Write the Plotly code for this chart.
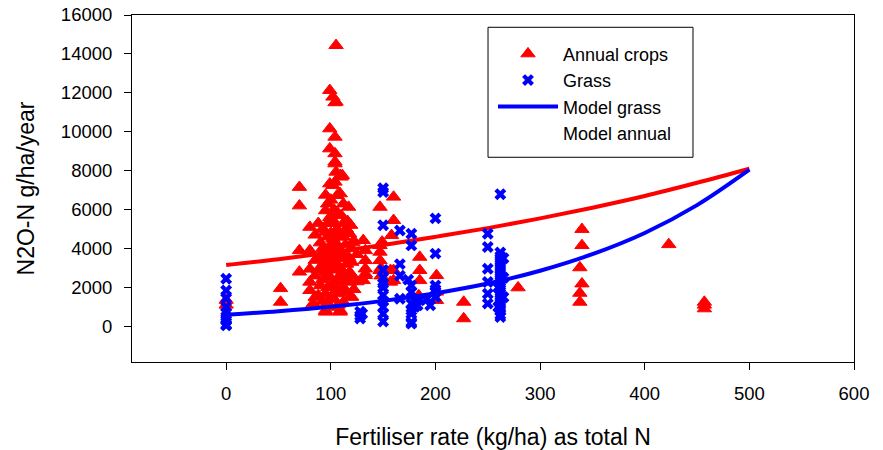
import plotly.graph_objects as go

# Annual crops: fertiliser rate (kg N/ha) and N2O-N emission (g/ha/year)
annual_x = [0, 0, 52, 52, 70, 70, 70, 70, 80, 80, 80, 80, 80, 83, 90, 90, 90, 88,
            95, 95, 95, 95, 95, 95, 95, 95, 95,
            99, 99, 99, 99, 99, 99, 99, 99, 99,
            101, 102, 102, 102, 102,
            104, 104, 104, 104, 104, 104, 105, 105, 105, 106, 106, 106, 106, 106, 106,
            109, 109, 109, 109, 109, 109, 109, 109,
            110, 110, 111, 112, 112, 112,
            117, 117, 115, 115, 115, 118, 118, 118, 119, 120, 120,
            85, 85, 85, 85, 88, 88,
            92, 92, 92, 92, 92,
            97, 97, 97, 97, 97, 97, 97,
            100, 100, 100, 100, 100, 100,
            103, 103, 103, 103, 103,
            107, 107, 107, 107, 107,
            112, 112, 112, 112, 114, 114,
            120, 120, 122, 122, 125, 125,
            116, 119, 121, 113,
            131, 133, 133, 133, 133, 131, 133,
            147, 147, 147, 147, 147, 149, 148, 148,
            157, 157, 160, 160, 158, 160, 160,
            185, 185, 185, 184,
            201, 201, 201,
            227, 227,
            279,
            340, 340, 338, 340, 338, 338,
            423,
            457, 457, 457]
annual_y = [1350, 1100, 1950, 1250, 7150, 6200, 3900, 2800, 5100, 3900, 2950, 2280, 1850, 1170, 3480, 2100, 4300, 1600,
            6750, 5950, 4850, 2800, 1680, 820, 740, 3800, 3300,
            12130, 10160, 9130, 7330, 990, 5600, 4000, 3000, 2500,
            5530, 11790, 7250, 4500, 3600,
            11500, 9730, 8880, 8450, 8360, 7420, 14440, 11530, 7930, 6730, 2280, 5000, 4200, 3200, 1900,
            6820, 7760, 1680, 820, 740, 3000, 3900, 2600,
            7680, 5700, 7760, 1250, 2000, 4600,
            6130, 3560, 5000, 3200, 2400, 4760, 2790, 2280, 1510, 1510, 4000,
            4700, 3400, 2600, 1500, 5300, 2900,
            5000, 4000, 3100, 2400, 1300,
            6300, 5300, 4600, 3600, 2700, 2000, 1200,
            6500, 4800, 4200, 3300, 2100, 1500,
            6000, 5300, 3900, 2900, 1400,
            5800, 4600, 3500, 2500, 1100,
            6300, 5300, 3600, 2800, 4200, 1800,
            3300, 2600, 4400, 1900, 3700, 2300,
            5400, 5200, 4300, 4900,
            4420, 3900, 3390, 2960, 2620, 2360, 2700,
            6130, 4160, 3820, 3390, 2880, 4340, 3000, 2600,
            2880, 2280, 6650, 5450, 4680, 2880, 2360,
            3560, 2880, 2360, 1590,
            2620, 1770, 1340,
            1250, 400,
            1990,
            4990, 4160, 3020, 2190, 1710, 1250,
            4210,
            1250, 1100, 910]

# Grass: fertiliser rate (kg N/ha) and N2O-N emission (g/ha/year)
grass_x = [0, 0, 0, 0, 0, 0, 0, 0, 0,
           128, 128, 128, 130,
           150, 150, 150, 150, 150, 150, 150, 150, 150, 150, 150, 150,
           166, 166, 166, 166, 174, 177, 177, 177, 177, 177, 177, 177, 177, 177,
           180, 180, 183, 185, 192, 195, 200, 200, 200, 200, 200, 200,
           250, 250, 250, 250, 250, 250,
           262, 262, 262, 262, 262, 262, 262, 262, 262, 262, 262, 262, 262, 262, 262, 262, 262, 262, 262,
           265, 265, 265, 260, 260]
grass_y = [2450, 1850, 1450, 1000, 700, 500, 300, 100, 50,
           750, 550, 400, 650,
           7100, 6900, 5200, 2900, 2500, 2000, 1600, 1000, 650, 250, 2200, 1300,
           4930, 3200, 2600, 1420, 2400, 4760, 4160, 2100, 1770, 1170, 820, 650, 220, 140,
           1000, 1300, 1080, 1340, 1420, 1080, 5550, 3740, 2100, 1770, 1510, 1900,
           4760, 4080, 2960, 2280, 1680, 1170,
           6790, 3800, 3600, 3400, 3200, 3000, 2800, 2600, 2400, 2200, 2000, 1800, 1600, 1400, 1200, 1000, 800, 600, 480,
           3500, 2500, 1500, 2000, 1000]

# Fitted model curves
model_x = [0, 50, 100, 150, 200, 250, 300, 350, 400, 450, 500]
model_annual_y = [3150, 3450, 3800, 4180, 4600, 5050, 5550, 6100, 6700, 7380, 8100]
model_grass_y = [600, 780, 1010, 1310, 1700, 2200, 2860, 3710, 4800, 6230, 8050]

x_ticks = [0, 100, 200, 300, 400, 500, 600]
y_ticks = [0, 2000, 4000, 6000, 8000, 10000, 12000, 14000, 16000]

RED = "#FF0000"
BLUE = "#0000FF"
FONT = "Liberation Sans, Arial, sans-serif"

fig = go.Figure()

# drawing order: annual model line, annual points, grass model line, grass points
fig.add_trace(go.Scatter(
    x=model_x, y=model_annual_y, mode="lines", name="Model annual", showlegend=False,
    legendgroup="annual_model", line=dict(color=RED, width=4, shape="spline"),
))
fig.add_trace(go.Scatter(
    x=annual_x, y=annual_y, mode="markers", name="Annual crops", legendrank=1,
    marker=dict(symbol="triangle-up", size=12.5, color=RED, line=dict(color=RED, width=1)),
))
fig.add_trace(go.Scatter(
    x=model_x, y=model_grass_y, mode="lines", name="Model grass", legendrank=3,
    line=dict(color=BLUE, width=4, shape="spline"),
))
fig.add_trace(go.Scatter(
    x=grass_x, y=grass_y, mode="markers", name="Grass", legendrank=2,
    marker=dict(symbol="x", size=10.5, color=BLUE, line=dict(width=0)),
))
# legend entry for the annual model (no symbol shown)
fig.add_trace(go.Scatter(
    x=[None], y=[None], mode="lines", name="Model annual", legendrank=4,
    legendgroup="annual_model", line=dict(color="rgba(0,0,0,0)", width=4),
))

fig.update_layout(
    width=883, height=450,
    margin=dict(l=132, r=29, t=15, b=88),
    paper_bgcolor="white", plot_bgcolor="white",
    font=dict(family=FONT, color="black", size=18.5),
    legend=dict(
        x=0.50, y=0.941, xanchor="left", yanchor="top",
        borderwidth=0, bgcolor="rgba(0,0,0,0)",
        font=dict(size=18, family=FONT, color="black"),
        itemwidth=60, tracegroupgap=0,
    ),
    shapes=[dict(
        type="rect", xref="paper", yref="paper",
        x0=0.4931, x1=0.777, y0=0.590, y1=0.9646,
        line=dict(color="black", width=1), fillcolor="white", layer="below",
    )],
    xaxis=dict(
        range=[-90, 600], tickvals=x_ticks, ticks="outside", ticklen=7,
        tickcolor="black", showline=True, linecolor="black", linewidth=1,
        mirror=True, showgrid=False, zeroline=False, automargin=False,
        tickfont=dict(size=18.5), ticklabelstandoff=8,
        title=dict(text="Fertiliser rate (kg/ha) as total N", font=dict(size=23), standoff=37),
    ),
    yaxis=dict(
        range=[-1830, 16000], tickvals=y_ticks, tickformat="d", ticks="outside", ticklen=7,
        tickcolor="black", showline=True, linecolor="black", linewidth=1,
        mirror=True, showgrid=False, zeroline=False, automargin=False,
        tickfont=dict(size=18.5), ticklabelstandoff=8,
        title=dict(text="N2O-N g/ha/year", font=dict(size=23), standoff=19),
    ),
)

fig.write_html("out.html")
